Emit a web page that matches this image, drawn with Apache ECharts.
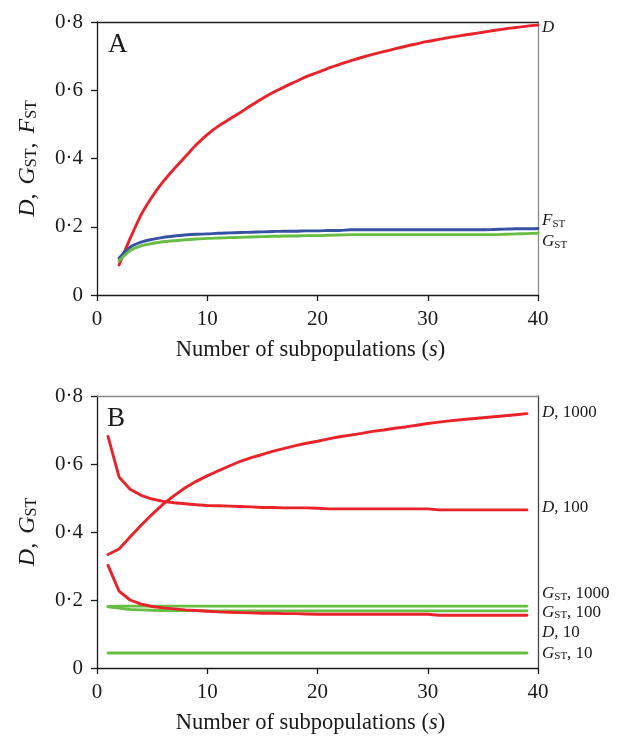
<!DOCTYPE html>
<html>
<head>
<meta charset="utf-8">
<script src="https://cdn.jsdelivr.net/npm/echarts@6/dist/echarts.min.js"></script>
<style>
  html, body { margin: 0; padding: 0; background: #fff; }
  #chart { width: 617px; height: 736px; }
</style>
</head>
<body>
<div id="chart"></div>
<script>
// ---- Panel A: D, G_ST and F_ST against number of subpopulations ----
const sA = [2, 3, 4, 5, 6, 7, 8, 9, 10, 11, 12, 13, 14, 15, 16, 17, 18, 19, 20, 21,
            22, 23, 24, 25, 26, 27, 28, 29, 30, 31, 32, 33, 34, 35, 36, 37, 38, 39, 40];
const dA = [0.088, 0.165, 0.235, 0.288, 0.332, 0.370, 0.405, 0.440, 0.470, 0.495,
            0.515, 0.535, 0.556, 0.576, 0.594, 0.610, 0.625, 0.640, 0.652, 0.665,
            0.676, 0.686, 0.696, 0.705, 0.713, 0.721, 0.729, 0.736, 0.743, 0.749,
            0.755, 0.760, 0.765, 0.770, 0.775, 0.780, 0.784, 0.788, 0.791];
const fstA = [0.108, 0.140, 0.155, 0.163, 0.169, 0.173, 0.176, 0.178, 0.179, 0.181,
              0.182, 0.183, 0.184, 0.185, 0.186, 0.187, 0.187, 0.188, 0.188, 0.189,
              0.189, 0.191, 0.191, 0.191, 0.191, 0.191, 0.191, 0.191, 0.191, 0.191,
              0.191, 0.191, 0.191, 0.191, 0.192, 0.193, 0.194, 0.194, 0.195];
const gstA = [0.100, 0.130, 0.144, 0.151, 0.156, 0.159, 0.162, 0.164, 0.166, 0.167,
              0.168, 0.169, 0.170, 0.171, 0.172, 0.173, 0.173, 0.174, 0.174, 0.175,
              0.176, 0.177, 0.177, 0.177, 0.177, 0.177, 0.177, 0.177, 0.177, 0.177,
              0.177, 0.177, 0.177, 0.177, 0.177, 0.178, 0.179, 0.180, 0.181];

// ---- Panel B: D and G_ST for 10, 100 and 1000 ----
const sB = [1, 2, 3, 4, 5, 6, 7, 8, 9, 10, 11, 12, 13, 14, 15, 16, 17, 18, 19, 20,
            21, 22, 23, 24, 25, 26, 27, 28, 29, 30, 31, 32, 33, 34, 35, 36, 37, 38, 39];
const d1000 = [0.334, 0.350, 0.385, 0.420, 0.452, 0.482, 0.507, 0.530, 0.549, 0.565,
               0.580, 0.594, 0.608, 0.619, 0.628, 0.638, 0.646, 0.654, 0.661, 0.667,
               0.674, 0.680, 0.685, 0.690, 0.696, 0.700, 0.705, 0.709, 0.714, 0.719,
               0.723, 0.727, 0.730, 0.733, 0.736, 0.739, 0.742, 0.745, 0.748];
const d100 = [0.681, 0.562, 0.526, 0.508, 0.497, 0.490, 0.486, 0.483, 0.480, 0.478,
              0.477, 0.476, 0.475, 0.474, 0.472, 0.472, 0.471, 0.471, 0.471, 0.470,
              0.468, 0.468, 0.468, 0.468, 0.468, 0.468, 0.468, 0.468, 0.468, 0.468,
              0.465, 0.465, 0.465, 0.465, 0.465, 0.465, 0.465, 0.465, 0.465];
const d10 = [0.302, 0.226, 0.200, 0.188, 0.181, 0.177, 0.174, 0.171, 0.169, 0.167,
             0.165, 0.164, 0.163, 0.162, 0.161, 0.161, 0.160, 0.160, 0.159, 0.158,
             0.158, 0.158, 0.158, 0.158, 0.158, 0.158, 0.158, 0.158, 0.158, 0.158,
             0.155, 0.155, 0.155, 0.155, 0.155, 0.155, 0.155, 0.155, 0.155];
const gst1000 = [0.181, 0.182, 0.182, 0.182, 0.182, 0.182, 0.182, 0.182, 0.182, 0.182,
                 0.182, 0.182, 0.182, 0.182, 0.182, 0.182, 0.182, 0.182, 0.182, 0.182,
                 0.182, 0.182, 0.182, 0.182, 0.182, 0.182, 0.182, 0.182, 0.182, 0.182,
                 0.182, 0.182, 0.182, 0.182, 0.182, 0.182, 0.182, 0.182, 0.182];
const gst100 = [0.180, 0.176, 0.172, 0.171, 0.170, 0.169, 0.169, 0.169, 0.169, 0.168,
                0.168, 0.168, 0.168, 0.168, 0.168, 0.168, 0.168, 0.168, 0.168, 0.168,
                0.168, 0.168, 0.168, 0.168, 0.168, 0.168, 0.168, 0.168, 0.168, 0.168,
                0.168, 0.168, 0.168, 0.168, 0.168, 0.168, 0.168, 0.168, 0.168];
const gst10 = [0.044, 0.044, 0.044, 0.044, 0.044, 0.044, 0.044, 0.044, 0.044, 0.044,
               0.044, 0.044, 0.044, 0.044, 0.044, 0.044, 0.044, 0.044, 0.044, 0.044,
               0.044, 0.044, 0.044, 0.044, 0.044, 0.044, 0.044, 0.044, 0.044, 0.044,
               0.044, 0.044, 0.044, 0.044, 0.044, 0.044, 0.044, 0.044, 0.044];

// Tick labels (the journal style uses a raised decimal point)
const yTickLabels = ['0', '0·2', '0·4', '0·6', '0·8'];
const xTickLabels = ['0', '10', '20', '30', '40'];

// ---- styling ----
const FONT = 'Liberation Serif';
const INK = '#1a1a1a';
const RED = '#ea2229';
const BLUE = '#3652a3';
const GREEN = '#68bd45';

const xTitleRich = {
  i: { fontFamily: FONT, fontStyle: 'italic', fontSize: 22.5, color: INK, lineHeight: 26, verticalAlign: 'bottom' },
  r: { fontFamily: FONT, fontSize: 22.5, color: INK, lineHeight: 26, verticalAlign: 'bottom' }
};
const yTitleRich = {
  i: { fontFamily: FONT, fontStyle: 'italic', fontSize: 24, color: INK, lineHeight: 28, verticalAlign: 'bottom' },
  r: { fontFamily: FONT, fontSize: 24, color: INK, lineHeight: 28, verticalAlign: 'bottom', padding: [0, 3, 0, 0] },
  s: { fontFamily: FONT, fontSize: 16, color: INK, lineHeight: 28, verticalAlign: 'bottom' }
};
const tagRich = {
  i: { fontFamily: FONT, fontStyle: 'italic', fontSize: 17, fill: INK, lineHeight: 20, verticalAlign: 'bottom' },
  r: { fontFamily: FONT, fontSize: 17, fill: INK, lineHeight: 20, verticalAlign: 'bottom' },
  s: { fontFamily: FONT, fontSize: 11, fill: INK, lineHeight: 20, verticalAlign: 'bottom' }
};

function xBottom(gridIndex) {
  return {
    type: 'value', gridIndex, position: 'bottom', min: 0, max: 40, interval: 10,
    axisLine: { show: true, onZero: false, lineStyle: { color: INK, width: 1.3 } },
    axisTick: { show: true, inside: false, length: 6, lineStyle: { color: INK, width: 1.3 } },
    axisLabel: {
      margin: 14, fontFamily: FONT, fontSize: 21, color: INK,
      formatter: v => xTickLabels[Math.round(v / 10)]
    },
    splitLine: { show: false },
    name: '{r|Number of subpopulations (}{i|s}{r|)}',
    nameLocation: 'middle', nameGap: 41,
    nameTextStyle: { rich: xTitleRich, padding: [0, 14, 0, 0] }
  };
}
function xTop(gridIndex, color) {
  return {
    type: 'value', gridIndex, position: 'top', min: 0, max: 40,
    axisLine: { show: true, onZero: false, lineStyle: { color, width: 1.3 } },
    axisTick: { show: false }, axisLabel: { show: false }, splitLine: { show: false }
  };
}
function yLeft(gridIndex, name) {
  return {
    type: 'value', gridIndex, position: 'left', min: 0, max: 0.8, interval: 0.2,
    axisLine: { show: true, onZero: false, lineStyle: { color: INK, width: 1.3 } },
    axisTick: { show: true, inside: false, length: 6, lineStyle: { color: INK, width: 1.3 } },
    axisLabel: {
      margin: 14, fontFamily: FONT, fontSize: 21, color: INK,
      formatter: v => yTickLabels[Math.round(v / 0.2)]
    },
    splitLine: { show: false },
    name, nameLocation: 'middle', nameGap: 57, nameRotate: 90,
    nameTextStyle: { rich: yTitleRich }
  };
}
function yRight(gridIndex, color) {
  return {
    type: 'value', gridIndex, position: 'right', min: 0, max: 0.8,
    axisLine: { show: true, onZero: false, lineStyle: { color, width: 1.3 } },
    axisTick: { show: false }, axisLabel: { show: false }, splitLine: { show: false }
  };
}
function line(xs, ys, color, xi, yi, smooth) {
  return {
    type: 'line', xAxisIndex: xi, yAxisIndex: yi,
    data: xs.map((x, k) => [x, ys[k]]),
    showSymbol: false, symbol: 'none', smooth,
    lineStyle: { color, width: 2.9, cap: 'round', join: 'round' },
    silent: true
  };
}

const series = [
  line(sA, dA, RED, 0, 0, 0.25),
  line(sA, fstA, BLUE, 0, 0, 0.25),
  line(sA, gstA, GREEN, 0, 0, 0.25),
  line(sB, gst10, GREEN, 2, 2, false),
  line(sB, gst100, GREEN, 2, 2, false),
  line(sB, gst1000, GREEN, 2, 2, false),
  line(sB, d10, RED, 2, 2, false),
  line(sB, d100, RED, 2, 2, false),
  line(sB, d1000, RED, 2, 2, false)
];

// Line tags placed just right of each panel, beside the last value of the line
const tags = [
  { series: 0, axis: 0, text: '{i|D}', dy: 1 },
  { series: 1, axis: 0, text: '{i|F}{s|ST}', dy: -9 },
  { series: 2, axis: 0, text: '{i|G}{s|ST}', dy: 7 },
  { series: 8, axis: 2, text: '{i|D}{r|, 1000}', dy: -3 },
  { series: 7, axis: 2, text: '{i|D}{r|, 100}', dy: -4 },
  { series: 5, axis: 2, text: '{i|G}{s|ST}{r|, 1000}', dy: -14 },
  { series: 4, axis: 2, text: '{i|G}{s|ST}{r|, 100}', dy: 0 },
  { series: 6, axis: 2, text: '{i|D}{r|, 10}', dy: 16 },
  { series: 3, axis: 2, text: '{i|G}{s|ST}{r|, 10}', dy: -1 }
];

const chart = echarts.init(document.getElementById('chart'), null, { renderer: 'canvas' });
chart.setOption({
  animation: false,
  backgroundColor: '#fff',
  title: [
    { text: 'A', left: 108, top: 31, padding: 0,
      textStyle: { fontFamily: FONT, fontSize: 27, fontWeight: 'normal', color: INK } },
    { text: 'B', left: 107, top: 405, padding: 0,
      textStyle: { fontFamily: FONT, fontSize: 27, fontWeight: 'normal', color: INK } }
  ],
  grid: [
    { left: 97, right: 79, top: 22, height: 273, containLabel: false },
    { left: 97, right: 79, top: 396, height: 274, containLabel: false }
  ],
  xAxis: [xBottom(0), xTop(0, '#222'), xBottom(1), xTop(1, '#8a8a8a')],
  yAxis: [
    yLeft(0, '{i|D}{r|, }{i|G}{s|ST}{r|, }{i|F}{s|ST}'),
    yRight(0, '#8a8a8a'),
    yLeft(1, '{i|D}{r|, }{i|G}{s|ST}'),
    yRight(1, '#444')
  ],
  series
});

const graphics = tags.map(t => {
  const data = series[t.series].data;
  const last = data[data.length - 1];
  const p = chart.convertToPixel({ seriesIndex: t.series }, last);
  const xEdge = chart.convertToPixel({ xAxisIndex: t.axis }, 40);
  return {
    type: 'text', x: xEdge + 4, y: p[1] + t.dy, silent: true,
    style: { text: t.text, rich: tagRich, align: 'left', verticalAlign: 'middle',
             fontFamily: FONT, fontSize: 17, fill: INK }
  };
});
chart.setOption({ graphic: graphics });
</script>
</body>
</html>
